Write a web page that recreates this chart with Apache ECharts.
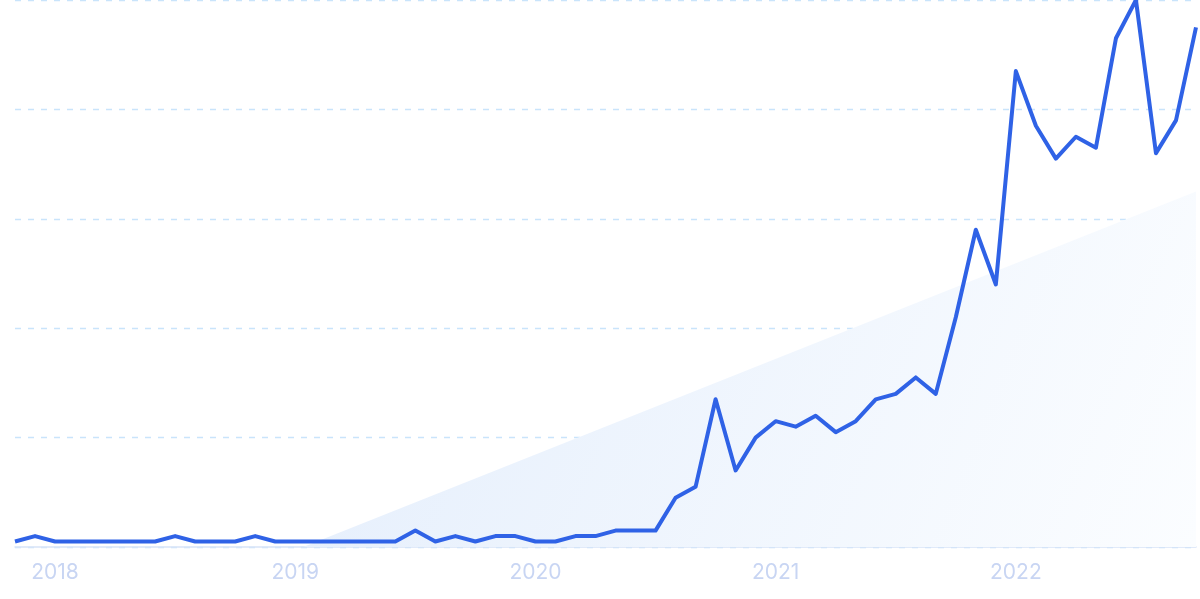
<!DOCTYPE html>
<html>
<head>
<meta charset="utf-8">
<script src="https://cdn.jsdelivr.net/npm/echarts@6/dist/echarts.min.js"></script>
<style>
html,body{margin:0;padding:0;background:#fff;}
#c{width:1200px;height:599px;}
</style>
</head>
<body>
<div id="c"></div>
<script>
var months = [
 '2017-11','2017-12',
 '2018-01','2018-02','2018-03','2018-04','2018-05','2018-06','2018-07','2018-08','2018-09','2018-10','2018-11','2018-12',
 '2019-01','2019-02','2019-03','2019-04','2019-05','2019-06','2019-07','2019-08','2019-09','2019-10','2019-11','2019-12',
 '2020-01','2020-02','2020-03','2020-04','2020-05','2020-06','2020-07','2020-08','2020-09','2020-10','2020-11','2020-12',
 '2021-01','2021-02','2021-03','2021-04','2021-05','2021-06','2021-07','2021-08','2021-09','2021-10','2021-11','2021-12',
 '2022-01','2022-02','2022-03','2022-04','2022-05','2022-06','2022-07','2022-08','2022-09','2022-10'
];
var interest = [
 1,2,1,1,1,1,1,1,2,1,
 1,1,2,1,1,1,1,1,1,1,
 3,1,2,1,2,2,1,1,2,2,
 3,3,3,9,11,27,14,20,23,22,
 24,21,23,27,28,31,28,42,58,48,
 87,77,71,75,73,93,100,72,78,95
];
var yearLabels = ['2018','2019','2020','2021','2022'];
// background trend wedge: [month index, value]
var trendStart = [14.4, 0];
var trendEnd = [59, 65];

var chart = echarts.init(document.getElementById('c'));
chart.setOption({
  animation: false,
  backgroundColor: '#ffffff',
  grid: {left: 15, right: 4, top: 0, bottom: 52, containLabel: false},
  xAxis: [{
    type: 'category',
    data: months,
    boundaryGap: false,
    axisLine: {show: true, lineStyle: {color: '#d8e3f7', width: 1.5}},
    axisTick: {show: false},
    splitLine: {show: false},
    axisLabel: {
      interval: function (i, v) { return yearLabels.indexOf(v.slice(0, 4)) >= 0 && v.slice(5) === '01'; },
      formatter: function (v) { return v.slice(0, 4); },
      color: '#c8d5f3',
      fontSize: 21,
      fontFamily: 'Inter, Roboto, sans-serif',
      margin: 15
    }
  }, {
    type: 'value',
    min: 0,
    max: months.length - 1,
    show: false
  }],
  yAxis: {
    type: 'value',
    min: 0,
    max: 100,
    interval: 20,
    axisLine: {show: false},
    axisTick: {show: false},
    axisLabel: {show: false},
    splitLine: {show: true, lineStyle: {color: '#c9e4fb', type: [6, 7], width: 1.3}}
  },
  series: [{
    type: 'line',
    xAxisIndex: 1,
    data: [trendStart, trendEnd],
    symbol: 'none',
    lineStyle: {width: 0, opacity: 0},
    areaStyle: {
      color: new echarts.graphic.LinearGradient(0, 0, 1, 1, [
        {offset: 0, color: '#e4eefc'},
        {offset: 1, color: '#fbfdff'}
      ]),
      opacity: 1
    },
    z: 1,
    silent: true
  }, {
    type: 'line',
    data: interest,
    symbol: 'none',
    lineStyle: {color: '#2f62e6', width: 4, join: 'round'},
    z: 5
  }]
});
</script>
</body>
</html>
